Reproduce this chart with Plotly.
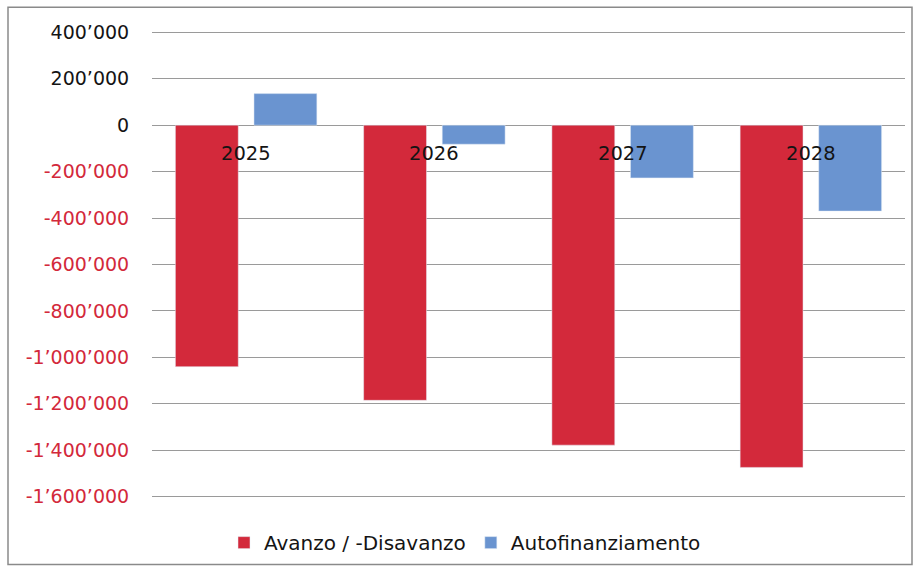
import plotly.graph_objects as go

categories = ["2025", "2026", "2027", "2028"]
avanzo = [-1040000, -1185000, -1378000, -1474000]
autofin = [136000, -82000, -227000, -370000]
series_names = ["Avanzo / -Disavanzo", "Autofinanziamento"]
tick_values = [400000, 200000, 0, -200000, -400000, -600000, -800000,
               -1000000, -1200000, -1400000, -1600000]

RED = "#D3293B"
BLUE = "#6A94D0"
TEXT = "#141414"
FONT = "DejaVu Sans"


def fmt(v):
    s = f"{abs(v):,}".replace(",", "\u2019")
    if v < 0:
        return f"<span style='color:{RED}'>-{s}</span>"
    return s


tick_text = [fmt(v) for v in tick_values]

W, H = 915, 570
YMIN, YMAX = -1610000, 410000
L, R = 152, 10
# gridlines at 400'000 -> y=32 px, -1'600'000 -> y=497 px
px_per_unit = (497 - 32) / 2000000
T = 32 - (YMAX - 400000) * px_per_unit
B = (H - 497) - (-1600000 - YMIN) * px_per_unit
pw = W - L - R
ph = H - T - B
bottom_px = H - B

fig = go.Figure()
fig.add_trace(go.Bar(x=list(categories), y=list(avanzo), name=series_names[0],
                     marker_color=RED))
fig.add_trace(go.Bar(x=list(categories), y=list(autofin), name=series_names[1],
                     marker_color=BLUE))

for i, c in enumerate(categories):
    fig.add_annotation(x=i, y=0, xref="x", yref="y", text=c, showarrow=False,
                       yanchor="middle", yshift=-28,
                       font=dict(family=FONT, size=19.5, color=TEXT))

fig.add_shape(type="rect", xref="paper", yref="paper",
              x0=(8 - L) / pw, x1=(912 - L) / pw,
              y0=(bottom_px - 565) / ph, y1=(bottom_px - 7) / ph,
              line=dict(color="#8a8a8a", width=1.5), fillcolor="rgba(0,0,0,0)",
              layer="below")

fig.update_layout(
    width=W, height=H,
    margin=dict(l=L, r=R, t=T, b=B, autoexpand=False),
    paper_bgcolor="white", plot_bgcolor="white",
    barmode="group", bargap=0.165, bargroupgap=0.2,
    font=dict(family=FONT, size=19, color=TEXT),
    showlegend=True,
    legend=dict(orientation="h", x=(224 - L) / pw, xanchor="left",
                y=(bottom_px - 543) / ph, yanchor="middle",
                font=dict(family=FONT, size=20, color=TEXT), traceorder="normal",
                itemwidth=30),
    xaxis=dict(type="category", categoryorder="array", categoryarray=categories,
               range=[-0.5, len(categories) - 0.5],
               showticklabels=False, showgrid=False, zeroline=False,
               showline=False, ticks="", automargin=False),
    yaxis=dict(range=[YMIN, YMAX], tickvals=tick_values, ticktext=tick_text,
               showgrid=True, gridcolor="#9a9a9a", gridwidth=1.2,
               zeroline=True, zerolinecolor="#9a9a9a", zerolinewidth=1.2,
               showline=False, ticks="outside", ticklen=18, tickcolor="white",
               automargin=False,
               tickfont=dict(family=FONT, size=19, color=TEXT)),
)

fig.write_html("out.html", config={"displayModeBar": False},
               post_script="document.body.style.margin='0';document.body.style.padding='0';")
